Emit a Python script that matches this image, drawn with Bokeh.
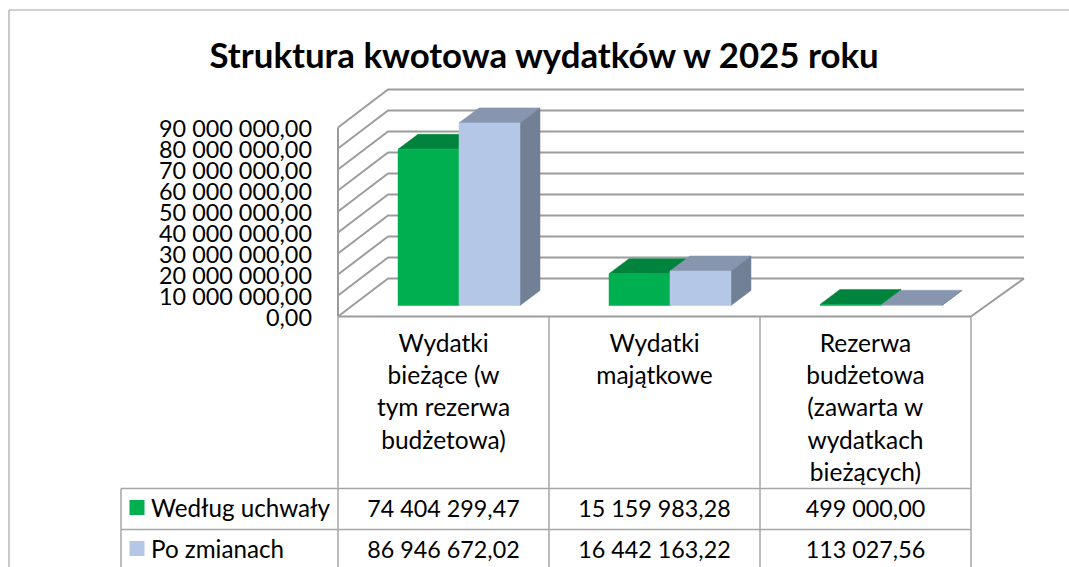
import numpy as np
from bokeh.core.properties import value
from bokeh.embed import file_html
from bokeh.models import FixedTicker, LinearAxis, Range1d
from bokeh.plotting import figure
from bokeh.resources import INLINE

title = "Struktura kwotowa wydatków w 2025 roku"
categories = ["Wydatki\nbieżące (w\ntym rezerwa\nbudżetowa)", "Wydatki\nmajątkowe",
              "Rezerwa\nbudżetowa\n(zawarta w\nwydatkach\nbieżących)"]
series_names = ["Według uchwały", "Po zmianach"]
uchwala = [74404299.47, 15159983.28, 499000.00]
zmiany = [86946672.02, 16442163.22, 113027.56]
uchwala_labels = ["74 404 299,47", "15 159 983,28", "499 000,00"]
zmiany_labels = ["86 946 672,02", "16 442 163,22", "113 027,56"]
ticks = [0, 10000000, 20000000, 30000000, 40000000, 50000000, 60000000, 70000000, 80000000, 90000000]
tick_labels = ["0,00", "10 000 000,00", "20 000 000,00", "30 000 000,00", "40 000 000,00",
               "50 000 000,00", "60 000 000,00", "70 000 000,00", "80 000 000,00", "90 000 000,00"]

GREEN, GREEN_TOP = "#00B050", "#00843D"
BLUE, BLUE_TOP, BLUE_SIDE = "#B4C7E7", "#8796AE", "#728096"
GRID, FRAME = "#9C9C9C", "#A6A6A6"
FONT = value("Lato")

# page-pixel geometry -> data units
PX_CAT = 211.0          # pixels per category
PX_VAL = 2.1e-6         # pixels per unit of value
X0, Y0 = 337.5, 316.0   # page position of category 0 / value 0
W, H = 1069, 567


def X(px):
    return (np.asarray(px, dtype=float) - X0) / PX_CAT


def Y(py):
    return (Y0 - np.asarray(py, dtype=float)) / PX_VAL


p = figure(width=W, height=H, output_backend="svg", toolbar_location=None,
           x_axis_type=None, y_axis_type=None, min_border=0,
           x_range=Range1d(float(X(0)), float(X(W))), y_range=Range1d(float(Y(H)), float(Y(0))))
p.outline_line_color = None
p.background_fill_color = "white"

DX, DY = 50 / PX_CAT, 38 / PX_VAL           # depth of the left wall
RX = 53 / PX_CAT                            # depth of the right end
BX, BY = 20 / PX_CAT, 15 / PX_VAL           # depth of a bar
BW = 61 / PX_CAT                            # width of a bar
BASE_X, BASE_Y = 60 / PX_CAT, 11 / PX_VAL   # bar foot inside the floor

# chart frame
p.multi_line(xs=[[X(8.5), X(8.5)], [X(8.5), X(W)]], ys=[[Y(9.5), Y(H)], [Y(9.5), Y(9.5)]],
             line_color=FRAME, line_width=1.2)

# walls, from the value ticks
ncat = len(categories)
wx, wy = [], []
for t in ticks:
    wx.append([0, DX, ncat + RX])
    wy.append([t, t + DY, t + DY])
wx.append([0, ncat, ncat + RX])
wy.append([0, 0, DY])
wx.append([0, 0])
wy.append([0, ticks[-1]])
p.multi_line(xs=wx, ys=wy, line_color=GRID, line_width=2)

# table
tx = [[i, i] for i in range(ncat + 1)]
ty = [[0, float(Y(H))] for _ in range(ncat + 1)]
tx += [[X(120.5), X(120.5)], [X(120.5), ncat], [X(120.5), ncat]]
ty += [[Y(488), Y(H)], [Y(488), Y(488)], [Y(529), Y(529)]]
p.multi_line(xs=tx, ys=ty, line_color=FRAME, line_width=1.5)

# bars
cat = np.arange(ncat)
for k, (vals, front, top, side) in enumerate([(uchwala, GREEN, GREEN_TOP, GREEN_TOP),
                                              (zmiany, BLUE, BLUE_TOP, BLUE_SIDE)]):
    v = np.asarray(vals)
    l = cat + BASE_X + k * BW
    r = l + BW
    f = BASE_Y
    p.patches(xs=[[a, a + BX, b + BX, b] for a, b in zip(l, r)],
              ys=[[t + f, t + f + BY, t + f + BY, t + f] for t in v],
              fill_color=top, line_color=top, line_width=0.5)
    p.patches(xs=[[b, b + BX, b + BX, b] for b in r],
              ys=[[f, f + BY, t + f + BY, t + f] for t in v],
              fill_color=side, line_color=side, line_width=0.5)
    p.quad(left=l, right=r, bottom=f, top=v + f, fill_color=front, line_color=front, line_width=0.5)

# value axis
axis = LinearAxis(fixed_location=0, ticker=FixedTicker(ticks=ticks),
                  major_label_overrides=dict(zip(ticks, tick_labels)))
axis.axis_line_color = None
axis.major_tick_line_color = None
axis.minor_tick_line_color = None
axis.major_label_standoff = 20
axis.major_label_text_font = "Lato"
axis.major_label_text_font_size = "23.4px"
axis.major_label_text_color = "#000000"
p.add_layout(axis, "left")

# title
p.text(x=[X(545)], y=[Y(54)], text=[title], text_font=FONT, text_font_style="bold",
       text_font_size="34.8px", text_align="center", text_baseline="middle", text_color="#000000")

# category texts
centers = cat + 0.5
p.text(x=centers, y=[Y(327)] * ncat, text=categories, text_font=FONT, text_font_size="24.5px",
       text_align="center", text_baseline="top", text_line_height=1.115, text_color="#000000")

# table values
row_y = [float(Y(507)), float(Y(548))]
for labels, ry in zip([uchwala_labels, zmiany_labels], row_y):
    p.text(x=centers, y=[ry] * ncat, text=labels, text_font=FONT, text_font_size="23.3px",
           text_align="center", text_baseline="middle", text_color="#000000")

# legend keys in the table
for name, ry, c in zip(series_names, row_y, [GREEN, BLUE]):
    p.quad(left=[X(129)], right=[X(144)], bottom=[ry - 7.5 / PX_VAL], top=[ry + 7.5 / PX_VAL],
           fill_color=c, line_color=None)
    p.text(x=[X(150.5)], y=[ry], text=[name], text_font=FONT, text_font_size="24.2px",
           text_align="left", text_baseline="middle", text_color="#000000")

open("out.html", "w").write(file_html(p, INLINE))
